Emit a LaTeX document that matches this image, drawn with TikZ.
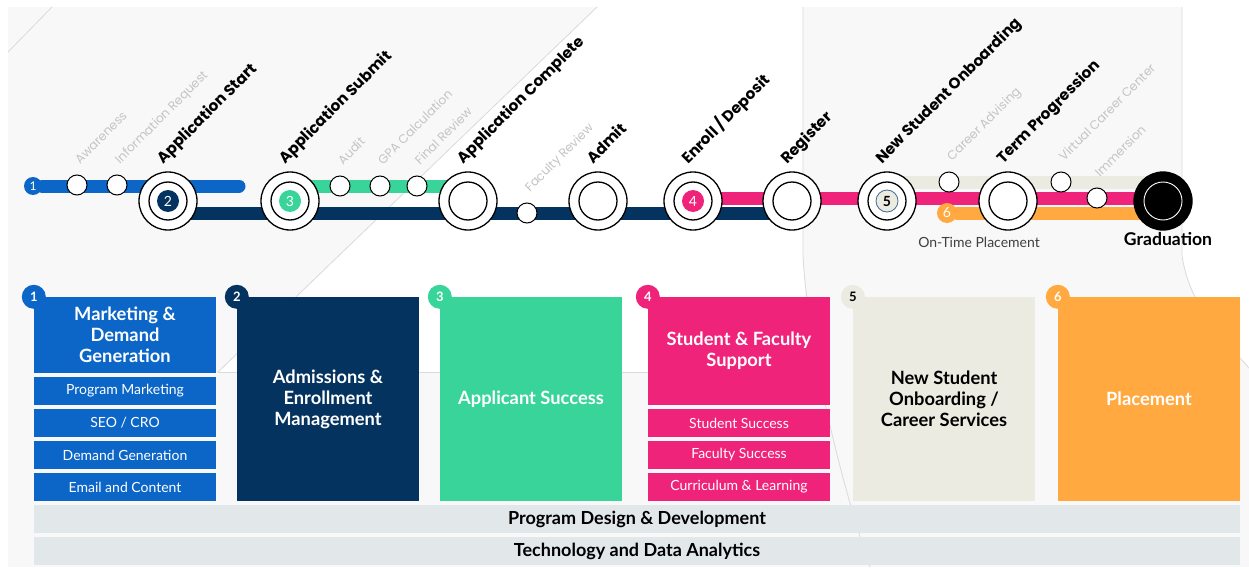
\documentclass[tikz,border=0pt]{standalone}
\usepackage{fontspec}
\setmainfont{Lato}
\newfontfamily\popfont{Poppins}
\usetikzlibrary{positioning}

\definecolor{mblue}{HTML}{0B66C8}
\definecolor{navy}{HTML}{05335F}
\definecolor{mgreen}{HTML}{38D49A}
\definecolor{mpink}{HTML}{F0237B}
\definecolor{beige}{HTML}{ECEBE1}
\definecolor{morange}{HTML}{FFA940}
\definecolor{bargrey}{HTML}{E2E7EA}
\definecolor{lblgrey}{HTML}{C4C4C4}
\definecolor{bgfill}{HTML}{F8F8F8}
\definecolor{decoline}{HTML}{DADADA}
\definecolor{steel}{HTML}{3F6A94}

\pgfdeclarelayer{bg}
\pgfsetlayers{bg,main}

\tikzset{
  station/.style={circle, draw=black, line width=1.3pt, fill=white, minimum size=58pt, inner sep=0pt,
    path picture={\draw[line width=1.3pt] (path picture bounding box.center) circle (19pt);}},
  gradstation/.style={station, fill=black,
    path picture={\draw[white, line width=0.9pt] (path picture bounding box.center) circle (19pt);}},
  stop/.style={circle, draw=black, line width=1pt, fill=white, minimum size=20pt, inner sep=0pt},
  linebadge/.style={circle, minimum size=22pt, inner sep=0pt, text=white, font=\fontsize{14}{14}\selectfont},
  boxbadge/.style={circle, minimum size=24pt, inner sep=0pt, text=white, font=\bfseries\fontsize{13}{13}\selectfont},
  tline/.style={line width=13pt, line cap=round},
  biglbl/.style={rotate=45, anchor=base west, inner sep=0pt, font=\popfont\bfseries\fontsize{15.3}{17}\selectfont},
  smalllbl/.style={rotate=45, anchor=base west, inner sep=0pt, text=lblgrey, font=\popfont\fontsize{12.3}{14}\selectfont},
  hbox/.style={rectangle, minimum width=182pt, inner sep=0pt, align=center, text=white,
    font=\bfseries\fontsize{18.3}{21}\selectfont},
  subbox/.style={rectangle, minimum width=182pt, minimum height=28pt, inner sep=0pt, text=white,
    font=\fontsize{14}{16}\selectfont},
  bar/.style={rectangle, fill=bargrey, minimum width=1206pt, minimum height=28pt, inner sep=0pt,
    font=\bfseries\fontsize{18}{20}\selectfont},
  deco/.style={draw=decoline, line width=0.8pt}
}

\begin{document}
\begin{tikzpicture}[x=1pt, y=-1pt]
\useasboundingbox (0,0) rectangle (1249,567);

% stations on the line
\node[station] (st2) at (168,201) {};
\node[station] (st3) at (290,201) {};
\node[station] (stc) at (468,201) {};
\node[station] (adm) at (598,201) {};
\node[station] (st4) at (693,201) {};
\node[station] (reg) at (792,201) {};
\node[station] (st5) at (887,201) {};
\node[station] (trm) at (1008,201) {};
\node[gradstation] (grad) at (1163,201) {};

% small stops
\node[stop] (aw) at (77,185) {};
\node[stop] (ir) at (117,185) {};
\node[stop] (au) at (340,186) {};
\node[stop] (gpa) at (380,186) {};
\node[stop] (fr) at (417,186) {};
\node[stop] (fac) at (527,213) {};
\node[stop] (ca) at (949,182) {};
\node[stop] (vcc) at (1061,182) {};
\node[stop] (imm) at (1097,198) {};

% numbers on the line
\node[linebadge, fill=mblue, minimum size=18pt, font=\fontsize{12}{12}\selectfont] (l1) at (33,186) {1};
\node[linebadge, fill=navy] (l2) at (st2) {2};
\node[linebadge, fill=mgreen] (l3) at (st3) {3};
\node[linebadge, fill=mpink] (l4) at (st4) {4};
\node[linebadge, fill=beige, draw=steel, line width=0.8pt, text=black,
  font=\bfseries\fontsize{14}{14}\selectfont] (l5) at (st5) {5};
\node[linebadge, fill=morange, minimum size=20pt] (l6) at (947,213) {6};
\coordinate (blueend) at (239,186);

\begin{pgfonlayer}{bg}
\fill[bgfill] (8,7) rectangle (1249,567);
\fill[white] (218,372) -- (597,7) -- (803,7) -- (803,255) .. controls (805,300) and (808,340) .. (812,372) -- cycle;
\fill[white] (1182,7) -- (1249,7) -- (1249,368) .. controls (1215,330) and (1188,300) .. (1182,255) -- cycle;
\draw[deco] (8,52) -- (52,7);
\draw[deco] (218,372) -- (597,7);
\draw[deco] (218,372) -- (812,372);
\draw[deco] (803,7) -- (803,255) .. controls (806,320) and (830,450) .. (870,567);
\draw[deco] (1182,7) -- (1182,255) .. controls (1188,300) and (1215,330) .. (1249,368);

\draw[tline, mblue] (l1) -- (blueend);
\draw[tline, navy] ([yshift=-12pt]st2.center) -- ([yshift=-12pt]reg.center);
\draw[tline, mgreen] ([yshift=15pt]st3.center) -- ([yshift=15pt]stc.center);
\draw[tline, beige] ([yshift=19pt]st5.center) -- ([yshift=19pt]grad.center);
\draw[tline, mpink] ([yshift=3pt]st4.center) -- ([yshift=3pt]grad.center);
\draw[tline, morange] (l6) -- (l6 -| grad);
\end{pgfonlayer}

% labels
\foreach \n/\t in {st2/Application Start, st3/Application Submit, stc/Application Complete,
  adm/Admit, st4/{Enroll / Deposit}, reg/Register, st5/New Student Onboarding, trm/Term Progression}
  \node[biglbl] at ([shift={(-5pt,7pt)}]\n.north) {\t};
\foreach \n/\t in {aw/Awareness, ir/Information Request, au/Audit, gpa/GPA Calculation,
  fr/Final Review, fac/Faculty Review, ca/Career Advising, vcc/Virtual Career Center, imm/Immersion}
  \node[smalllbl] at ([shift={(3pt,10pt)}]\n.north) {\t};
\node[inner sep=0pt, anchor=north, font=\bfseries\fontsize{17.6}{19}\selectfont] at ([shift={(5pt,-2pt)}]grad.south) {Graduation};
\node[text=black!75, font=\fontsize{14}{16}\selectfont] (otp) at (979,242) {On-Time Placement};

% boxes
\node[hbox, fill=mblue, minimum height=76pt] (m1) at (125,335) {Marketing \&\\Demand\\Generation};
\foreach \t [count=\i] in {Program Marketing, SEO / CRO, Demand Generation, Email and Content}
  \node[subbox, fill=mblue] at (125,359+32*\i) {\t};
\node[hbox, fill=navy, minimum height=204pt] (m2) at (328,399) {Admissions \&\\Enrollment\\Management};
\node[hbox, fill=mgreen, minimum height=204pt] (m3) at (531,399) {Applicant Success};
\node[hbox, fill=mpink, minimum height=108pt] (m4) at (739,351) {Student \& Faculty\\Support};
\foreach \t [count=\i] in {Student Success, Faculty Success, Curriculum \& Learning}
  \node[subbox, fill=mpink] at (739,391+32*\i) {\t};
\node[hbox, fill=beige, text=black, minimum height=204pt] (m5) at (944,399) {New Student\\Onboarding /\\Career Services};
\node[hbox, fill=morange, minimum height=204pt] (m6) at (1149,399) {Placement};

\node[boxbadge, fill=mblue] at (m1.north west) {1};
\node[boxbadge, fill=navy] at (m2.north west) {2};
\node[boxbadge, fill=mgreen] at (m3.north west) {3};
\node[boxbadge, fill=mpink] at (m4.north west) {4};
\node[boxbadge, fill=beige, text=black] at (m5.north west) {5};
\node[boxbadge, fill=morange] at (m6.north west) {6};

\node[bar] (pdd) at (637,519) {Program Design \& Development};
\node[bar] (tda) at (637,551) {Technology and Data Analytics};
\end{tikzpicture}
\end{document}
